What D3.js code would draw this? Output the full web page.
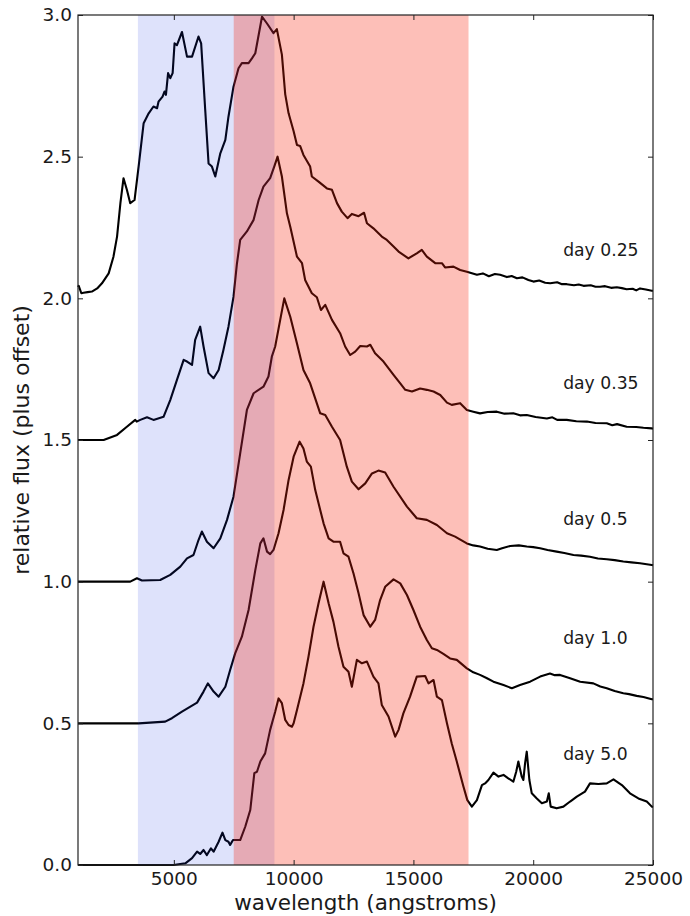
<!DOCTYPE html>
<html lang="en">
<head>
    <meta charset="UTF-8">
    <title>Spectra by day</title>
    <script src="https://d3js.org/d3.v7.min.js"></script>
    <style>
        body {background:#fff; margin:0}
        svg {display:block; font-family:"DejaVu Sans", sans-serif}
        .tick text {fill:#1a1a1a}
        .tick line {stroke:#222}
    </style>
</head>
<body>
<svg id="chart" width="690" height="916"></svg>

<script>
// spectra: [wavelength (angstroms), relative flux] - offset is added when drawn
var dayLabels = ["day 0.25", "day 0.35", "day 0.5", "day 1.0", "day 5.0"];
var offsets = [2.0, 1.5, 1.0, 0.5, 0.0];
var labelY = [2.15, 1.68, 1.2, 0.78, 0.37];
var labelX = 21250;

var spec025 = [[1000,0.04],[1030,0.044],[1140,0.018],[1230,0.02],[1400,0.022],[1580,0.024],[1800,0.035],[2000,0.053],[2280,0.088],[2480,0.147],[2630,0.218],[2770,0.336],[2900,0.424],[3040,0.383],[3180,0.336],[3360,0.347],[3530,0.465],[3740,0.618],[3950,0.653],[4150,0.677],[4300,0.671],[4360,0.694],[4530,0.712],[4610,0.73],[4670,0.718],[4760,0.795],[4850,0.777],[4950,0.795],[5030,0.90],[5130,0.894],[5340,0.94],[5550,0.853],[5760,0.853],[6030,0.924],[6140,0.90],[6310,0.665],[6450,0.476],[6590,0.465],[6730,0.43],[6940,0.512],[7150,0.559],[7280,0.641],[7490,0.747],[7700,0.812],[7840,0.83],[8120,0.83],[8260,0.847],[8400,0.865],[8680,0.994],[8890,0.97],[9160,0.936],[9300,0.95],[9510,0.86],[9650,0.72],[9790,0.653],[10000,0.59],[10140,0.541],[10270,0.538],[10410,0.506],[10690,0.465],[10760,0.43],[11040,0.412],[11390,0.388],[11600,0.383],[11810,0.336],[12010,0.306],[12250,0.283],[12430,0.298],[12710,0.29],[12940,0.302],[13060,0.265],[13330,0.247],[13680,0.218],[13890,0.206],[14170,0.183],[14380,0.165],[14790,0.141],[15140,0.159],[15350,0.171],[15560,0.147],[15910,0.124],[16190,0.124],[16320,0.109],[16670,0.112],[16950,0.10],[17230,0.094],[17650,0.083],[17900,0.088],[18150,0.078],[18400,0.086],[18620,0.083],[18900,0.075],[19100,0.079],[19320,0.071],[19550,0.074],[19800,0.065],[20010,0.059],[20250,0.063],[20500,0.055],[20710,0.053],[21000,0.057],[21200,0.05],[21400,0.05],[21700,0.046],[21900,0.049],[22100,0.044],[22400,0.046],[22600,0.041],[22790,0.041],[23000,0.043],[23250,0.037],[23490,0.039],[23700,0.036],[23900,0.032],[24150,0.034],[24300,0.028],[24460,0.035],[24700,0.031],[24950,0.027],[25000,0.027]];

var spec035 = [[1000,0],[2070,0],[2630,0.018],[3040,0.047],[3390,0.071],[3450,0.065],[3600,0.071],[3880,0.08],[4150,0.071],[4570,0.082],[4850,0.141],[5130,0.212],[5410,0.283],[5550,0.277],[5760,0.265],[5890,0.353],[6100,0.40],[6240,0.33],[6450,0.236],[6660,0.218],[6870,0.247],[7070,0.318],[7280,0.40],[7490,0.505],[7630,0.62],[7770,0.706],[8050,0.736],[8330,0.777],[8540,0.847],[8740,0.894],[9020,0.924],[9190,0.965],[9330,1.0],[9510,0.93],[9720,0.80],[9860,0.753],[10140,0.647],[10350,0.624],[10480,0.565],[10760,0.518],[10970,0.504],[11140,0.459],[11320,0.477],[11600,0.424],[11940,0.377],[12150,0.33],[12360,0.30],[12570,0.312],[12780,0.332],[13060,0.33],[13200,0.336],[13400,0.306],[13750,0.277],[14170,0.23],[14450,0.20],[14660,0.177],[14940,0.171],[15280,0.182],[15560,0.177],[15840,0.171],[16120,0.159],[16400,0.132],[16600,0.124],[16950,0.13],[17230,0.106],[17500,0.1],[17780,0.094],[18100,0.099],[18480,0.10],[18800,0.093],[19170,0.094],[19450,0.087],[19730,0.088],[20100,0.081],[20570,0.076],[20800,0.08],[21000,0.071],[21400,0.071],[21800,0.066],[22240,0.065],[22600,0.06],[23070,0.059],[23300,0.052],[23500,0.056],[23900,0.047],[24300,0.046],[24600,0.043],[24950,0.041],[25000,0.04]];

var spec05 = [[1000,0],[3180,0],[3460,0.012],[3670,0.004],[4430,0.006],[4850,0.024],[5270,0.053],[5550,0.082],[5820,0.094],[6030,0.147],[6170,0.177],[6380,0.141],[6660,0.118],[6940,0.153],[7220,0.218],[7490,0.30],[7770,0.453],[8050,0.606],[8330,0.665],[8740,0.688],[8950,0.724],[9090,0.794],[9230,0.83],[9440,0.924],[9610,1.0],[9860,0.935],[10140,0.841],[10410,0.747],[10690,0.70],[10900,0.647],[11110,0.594],[11320,0.588],[11600,0.547],[11940,0.50],[12220,0.406],[12430,0.353],[12710,0.326],[12990,0.347],[13270,0.382],[13540,0.392],[13820,0.385],[14170,0.335],[14730,0.265],[15140,0.224],[15560,0.218],[15980,0.20],[16400,0.171],[16740,0.159],[17230,0.135],[17500,0.128],[17780,0.124],[18100,0.116],[18480,0.112],[18700,0.118],[19040,0.126],[19400,0.128],[19730,0.124],[20000,0.122],[20290,0.118],[20600,0.112],[20980,0.106],[21300,0.101],[21680,0.094],[22000,0.092],[22370,0.088],[22700,0.082],[23070,0.079],[23400,0.076],[23760,0.071],[24100,0.068],[24460,0.065],[24950,0.059],[25000,0.058]];

var spec10 = [[1000,0],[3530,0],[4640,0.006],[4920,0.018],[5340,0.041],[5690,0.059],[5970,0.073],[6240,0.112],[6420,0.141],[6660,0.112],[6870,0.094],[7150,0.129],[7350,0.188],[7560,0.247],[7840,0.306],[8120,0.40],[8400,0.541],[8610,0.635],[8740,0.653],[8890,0.606],[9020,0.597],[9160,0.612],[9370,0.671],[9580,0.753],[9790,0.859],[10000,0.941],[10250,0.994],[10410,0.97],[10550,0.924],[10720,0.906],[10900,0.824],[11110,0.753],[11250,0.706],[11460,0.653],[11660,0.641],[11940,0.641],[12080,0.60],[12290,0.588],[12500,0.529],[12710,0.459],[12920,0.382],[13200,0.341],[13400,0.365],[13610,0.435],[13820,0.482],[14170,0.508],[14450,0.494],[14730,0.453],[15000,0.40],[15280,0.341],[15560,0.294],[15770,0.265],[15980,0.259],[16250,0.245],[16530,0.229],[16810,0.224],[17230,0.194],[17500,0.18],[17780,0.171],[18050,0.16],[18340,0.147],[18760,0.135],[19110,0.124],[19450,0.135],[19870,0.147],[20290,0.165],[20700,0.176],[20900,0.17],[21120,0.171],[21540,0.159],[21960,0.147],[22510,0.141],[22800,0.13],[23070,0.124],[23400,0.114],[23760,0.106],[24000,0.103],[24320,0.097],[24600,0.093],[24950,0.085],[25000,0.085]];

var spec50 = [[1000,0],[4990,0],[5480,0.006],[5760,0.024],[5970,0.047],[6100,0.039],[6240,0.053],[6380,0.035],[6550,0.059],[6660,0.047],[6870,0.082],[7030,0.114],[7150,0.088],[7280,0.082],[7350,0.071],[7470,0.088],[7770,0.088],[7980,0.135],[8190,0.194],[8360,0.324],[8470,0.329],[8610,0.365],[8810,0.394],[9020,0.477],[9230,0.541],[9370,0.588],[9510,0.571],[9650,0.512],[9790,0.494],[9930,0.488],[10000,0.50],[10140,0.547],[10410,0.641],[10620,0.735],[10830,0.841],[11040,0.924],[11250,1.0],[11460,0.924],[11660,0.859],[11870,0.771],[12080,0.70],[12290,0.682],[12430,0.629],[12640,0.724],[12850,0.712],[13060,0.718],[13330,0.665],[13540,0.641],[13680,0.565],[13960,0.524],[14240,0.453],[14380,0.477],[14580,0.535],[14860,0.594],[15140,0.665],[15490,0.667],[15630,0.641],[15840,0.653],[15980,0.594],[16190,0.582],[16400,0.50],[16600,0.429],[16810,0.365],[17090,0.276],[17250,0.229],[17440,0.206],[17650,0.229],[17860,0.282],[17990,0.288],[18130,0.30],[18340,0.326],[18550,0.312],[18760,0.318],[18960,0.306],[19170,0.294],[19290,0.329],[19380,0.365],[19520,0.312],[19590,0.30],[19660,0.359],[19730,0.40],[19840,0.30],[19940,0.253],[20150,0.235],[20360,0.218],[20570,0.224],[20650,0.253],[20730,0.206],[20980,0.20],[21260,0.206],[21540,0.224],[21820,0.241],[22160,0.259],[22370,0.288],[22720,0.286],[23070,0.288],[23350,0.302],[23700,0.282],[24040,0.253],[24390,0.235],[24740,0.224],[24950,0.206],[25000,0.205]];

var spectra = [spec025, spec035, spec05, spec10, spec50];

// shaded bands [from, to] in angstroms
var blueBand = [3500, 9200];
var redBand = [7500, 17300];

var xTicks = [5000, 10000, 15000, 20000, 25000];
var yTicks = [0, 0.5, 1.0, 1.5, 2.0, 2.5, 3.0];

var margin = {top: 15, left: 78};
var width = 575, height = 850;

var svg = d3.select("#chart");
var g = svg.append("g").attr("transform", "translate(" + margin.left + "," + margin.top + ")");

var x = d3.scaleLinear().domain([1000, 25000]).range([0, width]);
var y = d3.scaleLinear().domain([0, 3]).range([height, 0]);

// spectra first, bands go over them with alpha like the original
var line = d3.line()
    .x(function(d){ return x(d[0]); })
    .y(function(d){ return y(d[1]); });

g.selectAll("path.spec")
    .data(spectra)
    .enter()
    .append("path")
    .attr("class", "spec")
    .attr("d", function(d, i){
        return line(d.map(function(p){ return [p[0], p[1] + offsets[i]]; }));
    })
    .attr("fill", "none")
    .attr("stroke", "#000")
    .attr("stroke-width", 2.1)
    .attr("stroke-linejoin", "round");

g.append("rect")
    .attr("x", x(blueBand[0]))
    .attr("width", x(blueBand[1]) - x(blueBand[0]))
    .attr("y", 0)
    .attr("height", height)
    .attr("fill", "rgb(20,50,230)")
    .attr("fill-opacity", 0.14);

g.append("rect")
    .attr("x", x(redBand[0]))
    .attr("width", x(redBand[1]) - x(redBand[0]))
    .attr("y", 0)
    .attr("height", height)
    .attr("fill", "rgb(248,35,10)")
    .attr("fill-opacity", 0.29);

// day labels
g.selectAll("text.day")
    .data(dayLabels)
    .enter()
    .append("text")
    .attr("class", "day")
    .attr("x", x(labelX))
    .attr("y", function(d, i){ return y(labelY[i]); })
    .attr("font-size", "17.2px")
    .attr("fill", "#1a1a1a")
    .text(function(d){ return d; });

// axes - ticks point inward on all four sides
g.append("g")
    .attr("transform", "translate(0," + height + ")")
    .call(d3.axisBottom(x).tickValues(xTicks).tickSize(-5).tickPadding(7).tickFormat(d3.format("d")));
g.append("g")
    .call(d3.axisTop(x).tickValues(xTicks).tickSize(-5).tickFormat(""));
g.append("g")
    .call(d3.axisLeft(y).tickValues(yTicks).tickSize(-5).tickPadding(6).tickFormat(d3.format(".1f")));
g.append("g")
    .attr("transform", "translate(" + width + ",0)")
    .call(d3.axisRight(y).tickValues(yTicks).tickSize(-5).tickFormat(""));

g.selectAll(".domain").remove();
g.selectAll(".tick text").attr("font-size", "18.5px").attr("font-family", "DejaVu Sans, sans-serif");

g.append("rect")
    .attr("width", width)
    .attr("height", height)
    .attr("fill", "none")
    .attr("stroke", "#222")
    .attr("stroke-width", 1.2);

// axis titles
svg.append("text")
    .attr("x", margin.left + width / 2)
    .attr("y", 910)
    .attr("text-anchor", "middle")
    .attr("font-size", "21.5px")
    .attr("fill", "#1a1a1a")
    .text("wavelength (angstroms)");

svg.append("text")
    .attr("transform", "translate(29," + (margin.top + height / 2) + ") rotate(-90)")
    .attr("text-anchor", "middle")
    .attr("font-size", "22px")
    .attr("fill", "#1a1a1a")
    .text("relative flux (plus offset)");
</script>
</body>
</html>
